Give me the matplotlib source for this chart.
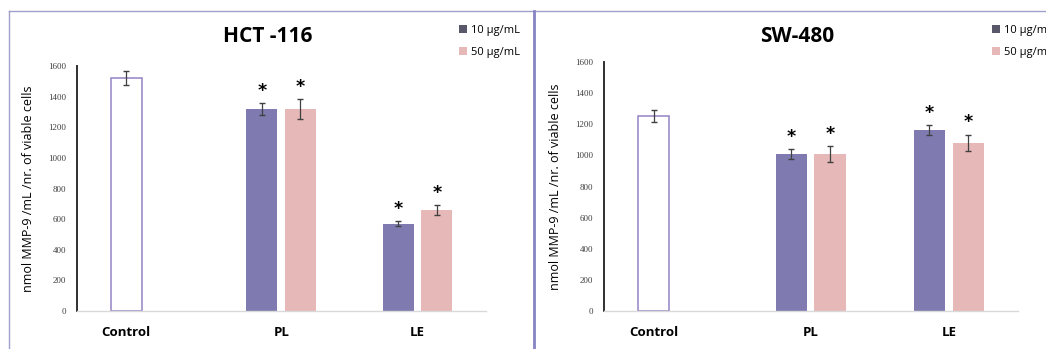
import matplotlib.pyplot as plt
from matplotlib.patches import Patch
from matplotlib.lines import Line2D
import numpy as np

# ---- data ----
categories = ['Control', 'PL', 'LE']
group_pos = [0.0, 1.0, 1.88]

hct_control, hct_control_err = 1522, 48
hct_10 = [1321, 570]
hct_10_err = [39, 18]
hct_50 = [1317, 657]
hct_50_err = [65, 32]

sw_control, sw_control_err = 1253, 38
sw_10 = [1010, 1163]
sw_10_err = [33, 34]
sw_50 = [1010, 1080]
sw_50_err = [52, 54]

legend_labels = ['10 \u00b5g/mL', '50 \u00b5g/mL']
yticks = [0, 200, 400, 600, 800, 1000, 1200, 1400, 1600]

C10 = '#7f7bb0'
C50 = '#e6b8b7'
CEDGE = '#9b8dc8'
ERRC = '#404040'
BORDER = '#a19fcb'

plt.rcParams['font.family'] = ['Open Sans', 'DejaVu Sans']

fig = plt.figure(figsize=(10.46, 3.49), dpi=100)
W = 1046
H = 349


def draw_panel(rect, title, title_x, ctrl, ctrl_err, v10, e10, v50, e50, leg_x):
    ax = fig.add_axes(rect)
    width = 0.2
    off = 0.124
    ax.bar(group_pos[0], ctrl, width, color='white', edgecolor=CEDGE, linewidth=1.2,
           yerr=ctrl_err, capsize=2.5, error_kw=dict(ecolor=ERRC, elinewidth=0.9))
    x2 = np.array(group_pos[1:])
    ax.bar(x2 - off, v10, width, color=C10, edgecolor='none',
           yerr=e10, capsize=2.5, error_kw=dict(ecolor=ERRC, elinewidth=0.9))
    ax.bar(x2 + off, v50, width, color=C50, edgecolor='none',
           yerr=e50, capsize=2.5, error_kw=dict(ecolor=ERRC, elinewidth=0.9))
    for xs, vs, es in [(x2 - off, v10, e10), (x2 + off, v50, e50)]:
        for x, v, e in zip(xs, vs, es):
            ax.text(x, v + e + 20, '*', ha='center', va='bottom', fontsize=12.5,
                    fontweight='bold', family='DejaVu Sans')
    ax.set_xlim(-0.316, 2.32)
    ax.set_ylim(0, 1600)
    ax.set_yticks(yticks)
    ax.set_yticklabels([str(t) for t in yticks], fontsize=6.5, family='Liberation Serif',
                       color='#404040')
    ax.set_xticks(group_pos)
    ax.set_xticklabels(categories, fontsize=9.5, fontweight='bold')
    ax.tick_params(axis='both', length=0)
    ax.tick_params(axis='x', pad=11)
    ax.tick_params(axis='y', pad=8)
    for s in ['top', 'right']:
        ax.spines[s].set_visible(False)
    ax.spines['left'].set_color('#303030')
    ax.spines['left'].set_linewidth(1.4)
    ax.spines['bottom'].set_color('#d9d9d9')
    ax.spines['bottom'].set_linewidth(1.0)
    ax.set_ylabel('nmol MMP-9 /mL /nr. of viable cells', fontsize=9, labelpad=9)
    fig.text(title_x / W, 1 - 37 / H, title, ha='center', va='center',
             fontsize=15, fontweight='bold')
    handles = [Patch(facecolor='#58586a'), Patch(facecolor=C50)]
    fig.legend(handles, legend_labels, loc='upper left',
               bbox_to_anchor=(leg_x / W, 1 - 25 / H), frameon=False,
               fontsize=8, handlelength=0.7, handleheight=0.7, handletextpad=0.4,
               labelspacing=1.0, borderaxespad=0, borderpad=0)
    return ax


draw_panel([77 / W, 1 - 311 / H, 409 / W, 245 / H], 'HCT -116', 268,
           hct_control, hct_control_err, hct_10, hct_10_err, hct_50, hct_50_err, 459)
draw_panel([604 / W, 1 - 311 / H, 414 / W, 249 / H], 'SW-480', 797,
           sw_control, sw_control_err, sw_10, sw_10_err, sw_50, sw_50_err, 992)

# panel frames
top = 1 - 11 / H
fig.add_artist(Line2D([9 / W, 9 / W], [0, top], color=BORDER, lw=1.0))
fig.add_artist(Line2D([9 / W, 1], [top, top], color=BORDER, lw=1.0))
fig.add_artist(Line2D([534 / W, 534 / W], [0, top], color='#8884c4', lw=2.0))

fig.savefig('out.png', dpi=100)
